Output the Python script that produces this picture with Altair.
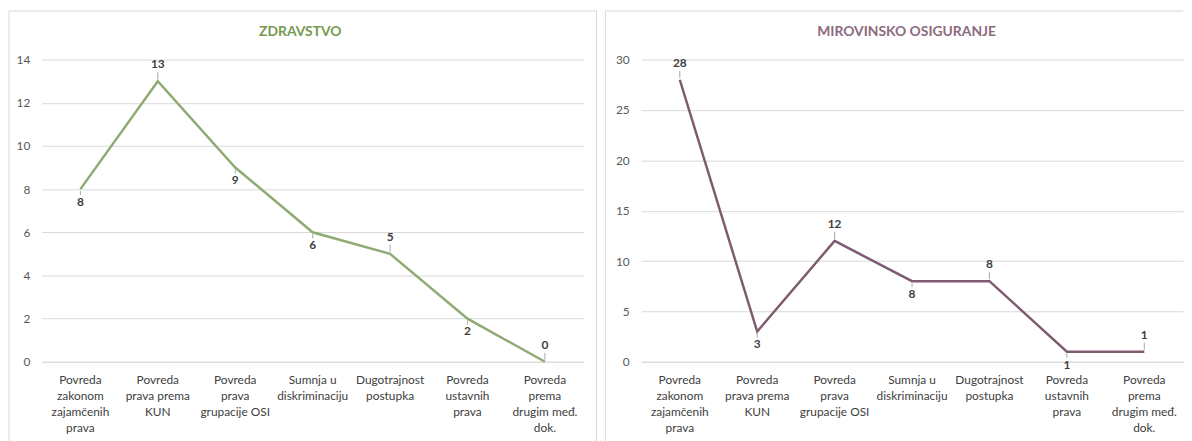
import json
import altair as alt
import pandas as pd

categories = [
    "Povreda zakonom zajamčenih prava",
    "Povreda prava prema KUN",
    "Povreda prava grupacije OSI",
    "Sumnja u diskriminaciju",
    "Dugotrajnost postupka",
    "Povreda ustavnih prava",
    "Povreda prema drugim međ. dok.",
]
category_lines = [
    ["Povreda", "zakonom", "zajamčenih", "prava"],
    ["Povreda", "prava prema", "KUN"],
    ["Povreda", "prava", "grupacije OSI"],
    ["Sumnja u", "diskriminaciju"],
    ["Dugotrajnost", "postupka"],
    ["Povreda", "ustavnih", "prava"],
    ["Povreda", "prema", "drugim međ.", "dok."],
]
zdravstvo = [8, 13, 9, 6, 5, 2, 0]
zdravstvo_side = ["below", "above", "below", "below", "above", "below", "above"]
mirovinsko = [28, 3, 12, 8, 8, 1, 1]
mirovinsko_side = ["above", "below", "above", "below", "above", "below", "above"]

FONT = "Lato"
W, H = 547, 305
label_expr = "(" + json.dumps(dict(zip(categories, category_lines)), ensure_ascii=False) + ")[datum.label]"


def panel(values, sides, title, line_color, title_color, y_max, y_step, title_x, left_border):
    df = pd.DataFrame({"cat": categories, "value": values, "side": sides})
    base = alt.Chart(df)
    x = alt.X(
        "cat:N",
        sort=categories,
        title=None,
        axis=alt.Axis(
            labelAngle=0,
            labelExpr=label_expr,
            ticks=False,
            domain=True,
            domainColor="#d9d9d9",
            labelColor="#404040",
            labelFontSize=12,
            labelFont=FONT,
            labelLineHeight=16,
            labelPadding=13,
            labelBaseline="top",
            labelLimit=0,
            grid=False,
        ),
    )
    y = alt.Y(
        "value:Q",
        title=None,
        scale=alt.Scale(domain=[0, y_max], nice=False),
        axis=alt.Axis(
            values=list(range(0, y_max + 1, y_step)),
            grid=True,
            gridColor="#d9d9d9",
            ticks=False,
            domain=False,
            labelPadding=12,
            labelColor="#595959",
            labelFontSize=12,
            labelFont=FONT,
        ),
    )
    one = alt.Chart(pd.DataFrame({"k": [0]}))
    if left_border:
        border = one.mark_rect(fillOpacity=0, stroke="#d9d9d9", strokeWidth=1).encode(
            x=alt.value(-33), x2=alt.value(560), y=alt.value(-49), y2=alt.value(H + 90)
        )
    else:
        border = one.mark_rule(color="#d9d9d9", strokeWidth=1).encode(
            x=alt.value(-36), x2=alt.value(W), y=alt.value(-49)
        ) + one.mark_rule(color="#d9d9d9", strokeWidth=1).encode(
            x=alt.value(-36), y=alt.value(-49), y2=alt.value(H + 90)
        )
    title_mark = one.mark_text(
        text=title, font=FONT, fontSize=14, fontWeight="bold", color=title_color, baseline="middle"
    ).encode(x=alt.value(title_x), y=alt.value(-28))
    line = base.mark_line(color=line_color, strokeWidth=2.5).encode(x=x, y=y)
    lead_up = base.transform_filter("datum.side == 'above'").mark_rule(
        color="#a6a6a6", strokeWidth=1, yOffset=-2, y2Offset=-9
    ).encode(x=x, y=y, y2="value:Q")
    lead_dn = base.transform_filter("datum.side == 'below'").mark_rule(
        color="#a6a6a6", strokeWidth=1, yOffset=2, y2Offset=6
    ).encode(x=x, y=y, y2="value:Q")
    txt_up = base.transform_filter("datum.side == 'above'").mark_text(
        font=FONT, fontSize=12, fontWeight="bold", color="#404040", dy=-17, baseline="middle"
    ).encode(x=x, y=y, text="value:Q")
    txt_dn = base.transform_filter("datum.side == 'below'").mark_text(
        font=FONT, fontSize=12, fontWeight="bold", color="#404040", dy=13, baseline="middle"
    ).encode(x=x, y=y, text="value:Q")
    return alt.layer(border, title_mark, lead_up, lead_dn, line, txt_up, txt_dn).properties(
        width=W, height=H
    )


left = panel(zdravstvo, zdravstvo_side, "ZDRAVSTVO", "#8fab73", "#76994f", 14, 2, 261, True)
right = panel(mirovinsko, mirovinsko_side, "MIROVINSKO OSIGURANJE", "#7e5b70", "#8b6a7e", 30, 5, 268, False)

chart = (
    alt.hconcat(left, right, spacing=7)
    .properties(padding=0, background="white")
    .configure_view(stroke=None)
)

chart.save("out.html", embed_options={"renderer": "svg", "actions": False})
